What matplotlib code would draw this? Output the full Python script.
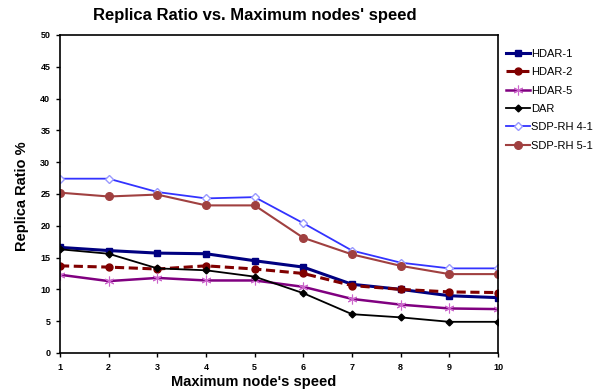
import matplotlib
matplotlib.use('Agg')
import matplotlib.pyplot as plt

plt.rcParams['font.family'] = ['Liberation Sans', 'DejaVu Sans']

speed = [1, 2, 3, 4, 5, 6, 7, 8, 9, 10]
hdar1 = [16.6, 16.1, 15.7, 15.6, 14.5, 13.5, 10.8, 10.0, 9.0, 8.7]
hdar2 = [13.7, 13.5, 13.2, 13.7, 13.2, 12.5, 10.6, 10.0, 9.6, 9.5]
hdar5 = [12.3, 11.3, 11.8, 11.4, 11.4, 10.4, 8.5, 7.6, 7.0, 6.9]
dar = [16.3, 15.6, 13.3, 13.0, 12.0, 9.4, 6.1, 5.6, 4.9, 4.9]
sdp41 = [27.4, 27.4, 25.3, 24.3, 24.5, 20.4, 16.1, 14.2, 13.3, 13.3]
sdp51 = [25.2, 24.6, 24.9, 23.2, 23.2, 18.1, 15.5, 13.7, 12.4, 12.4]

fig = plt.figure(figsize=(6, 3.92), dpi=100)
ax = fig.add_axes([0.1, 0.0995, 0.73, 0.8115])

ax.plot(speed, hdar1, color='#000080', lw=2.2, marker='s', ms=4, label='HDAR-1')
ax.plot(speed, hdar2, color='#800000', lw=2.2, ls=(0, (3, 1.5)), marker='o', ms=5, label='HDAR-2')
ax.plot(speed, hdar5, color='#800080', lw=1.8, marker=(6, 2, 0), ms=7, mew=0.8,
        mec='#CC66CC', label='HDAR-5')
ax.plot(speed, dar, color='black', lw=1.3, marker='D', ms=3.5, label='DAR')
ax.plot(speed, sdp41, color='#3333FF', lw=1.3, marker='D', ms=4.5, mfc='white',
        mec='#9999FF', label='SDP-RH 4-1')
ax.plot(speed, sdp51, color='#A04040', lw=1.5, marker='o', ms=5.5, mfc='#A04040',
        mec='#A04040', label='SDP-RH 5-1')

ax.set_xlim(1, 10)
ax.set_ylim(0, 50)
ax.set_xticks(speed)
ax.set_yticks(range(0, 51, 5))
ax.tick_params(labelsize=6.5, length=3, width=1, direction='out', pad=4)
for lab in ax.get_xticklabels() + ax.get_yticklabels():
    lab.set_fontweight('bold')
for sp in ax.spines.values():
    sp.set_linewidth(1.2)

fig.text(0.425, 0.96, "Replica Ratio vs. Maximum nodes' speed", ha='center', va='center',
         fontsize=12, fontweight='bold')
fig.text(0.422, 0.025, "Maximum node's speed", ha='center', va='center',
         fontsize=10.5, fontweight='bold')
fig.text(0.037, 0.5, 'Replica Ratio %', ha='center', va='center', rotation=90,
         fontsize=10.5, fontweight='bold')

ax.legend(loc='upper left', bbox_to_anchor=(1.0, 0.98), frameon=False, fontsize=8,
          handlelength=2.2, handletextpad=0.1, borderaxespad=0.3, labelspacing=0.75)

fig.savefig('out.png', dpi=100)
